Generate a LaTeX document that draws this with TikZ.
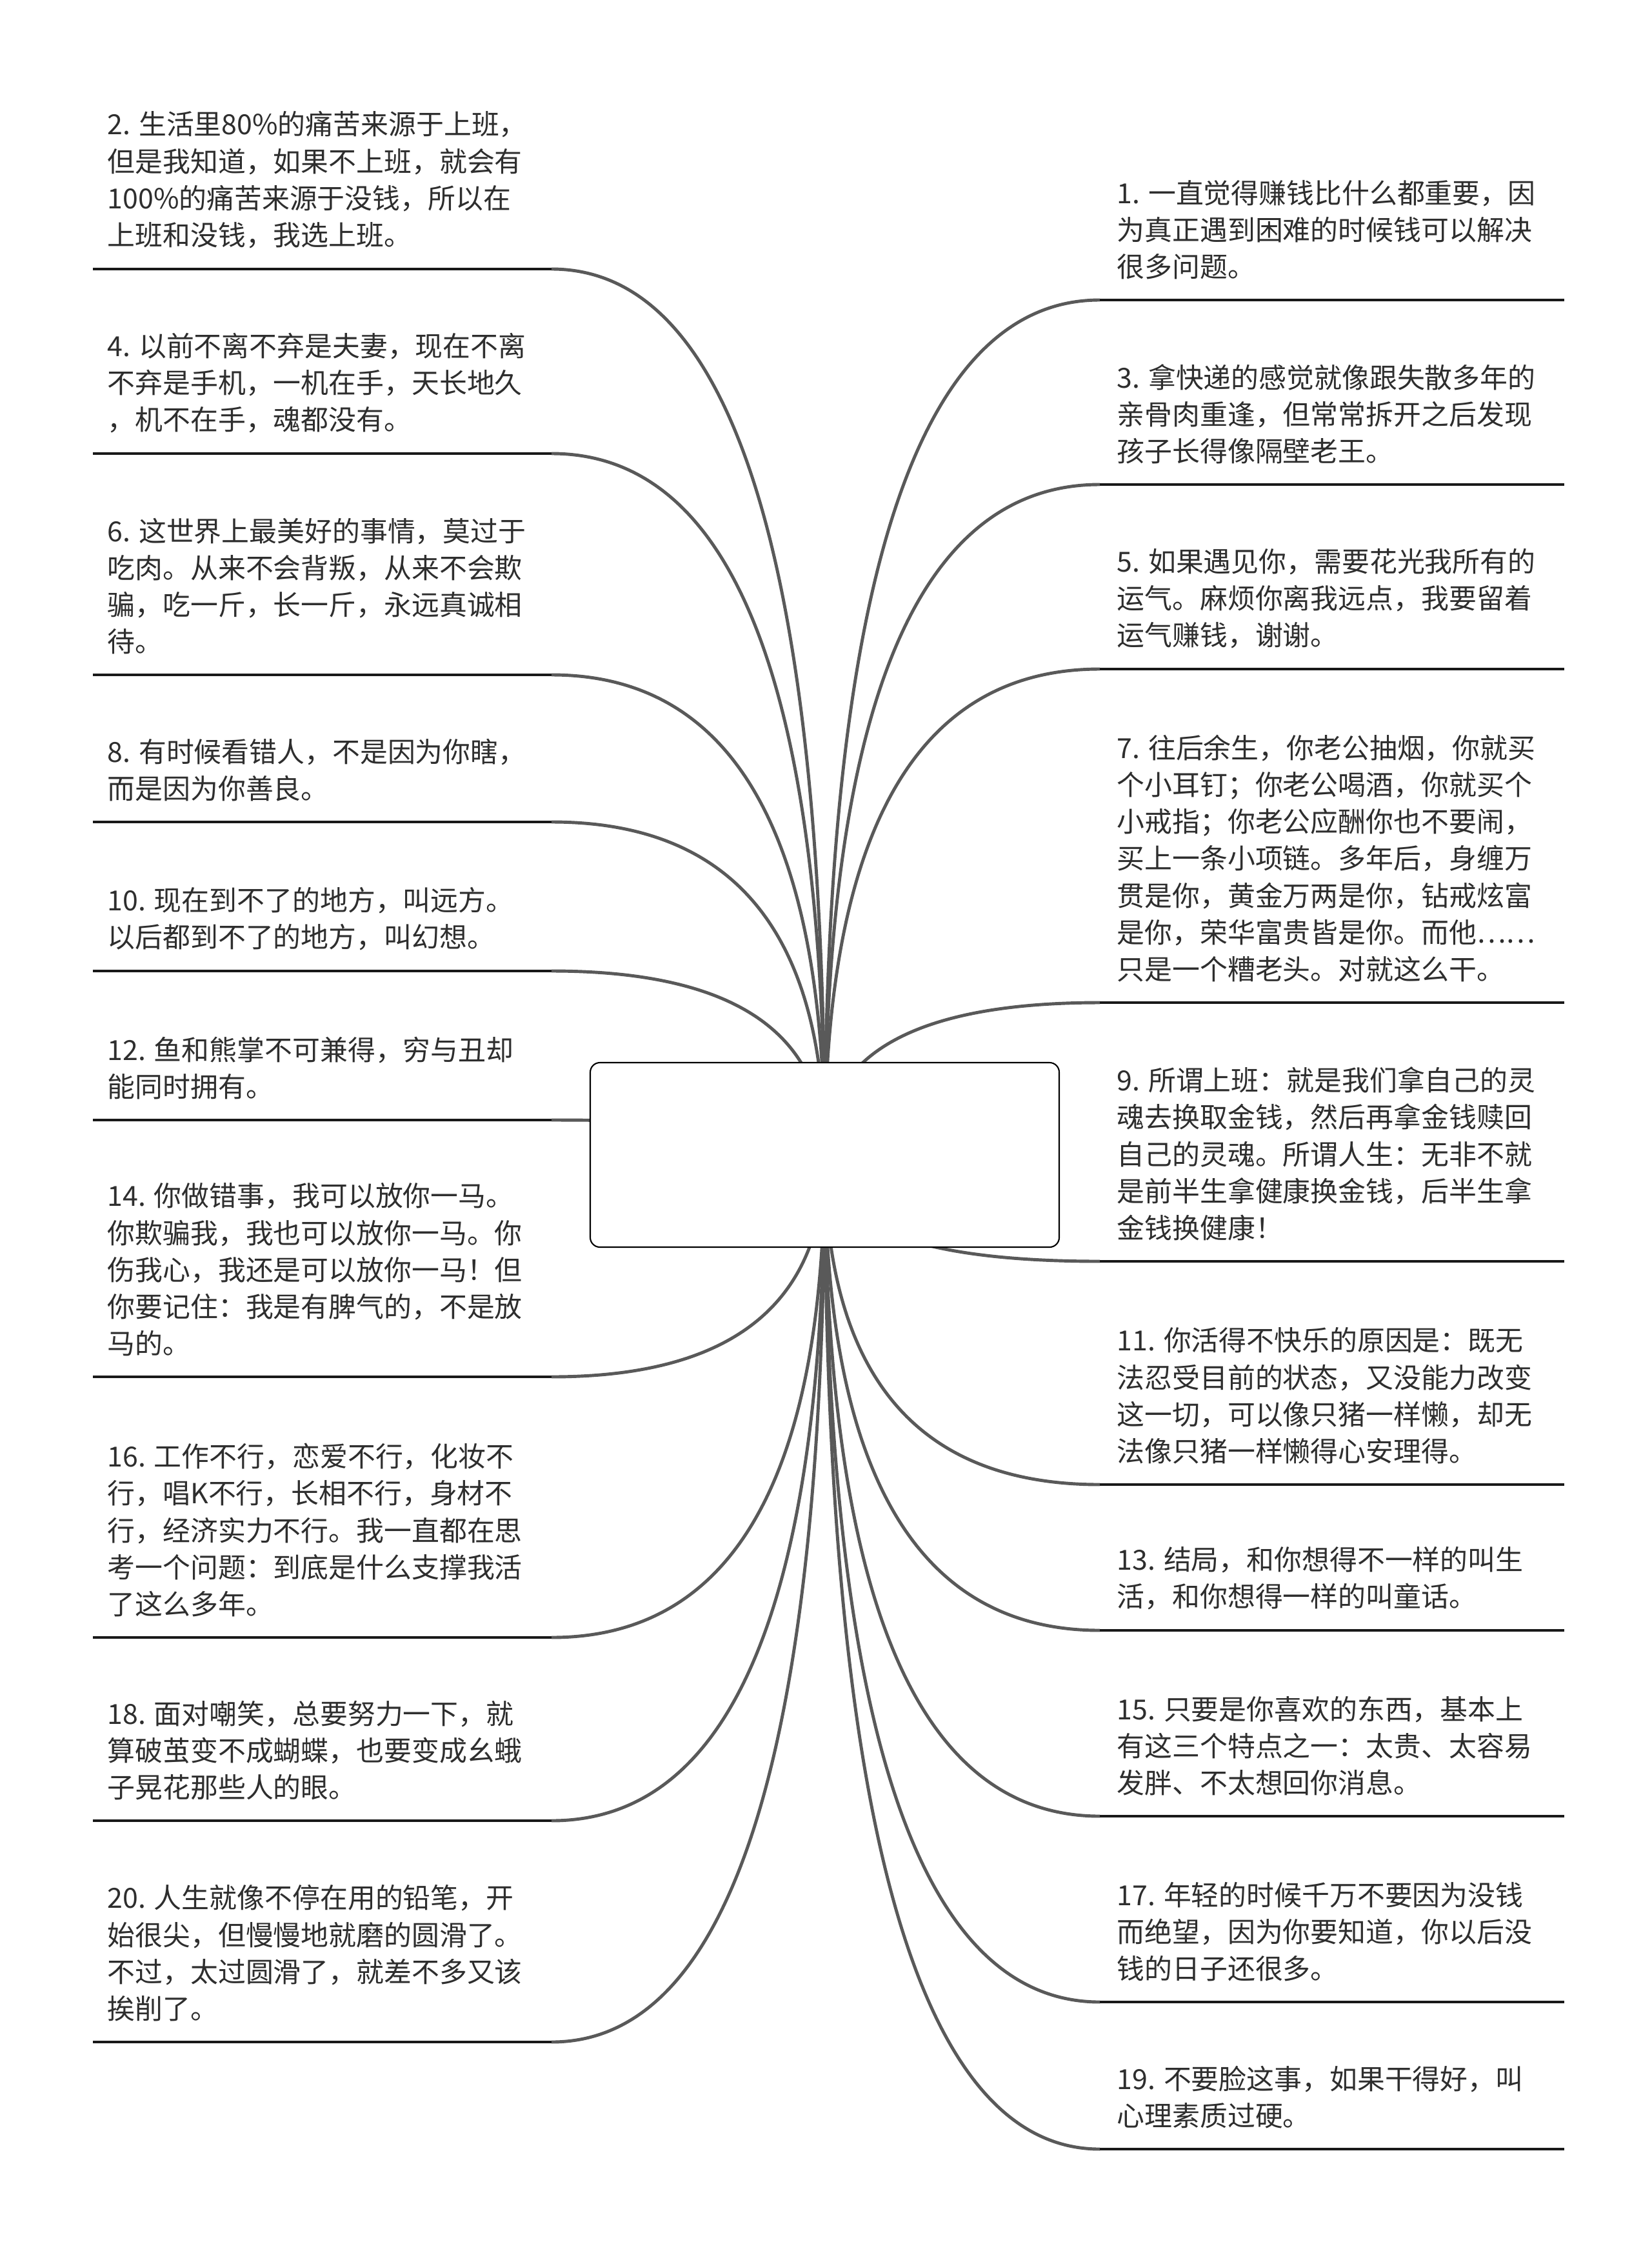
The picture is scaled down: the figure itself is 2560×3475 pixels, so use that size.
\documentclass[tikz,border=0pt]{standalone}
\usepackage{fontspec}
\setmainfont{Noto Sans CJK SC}
\usetikzlibrary{calc,backgrounds}

\begin{document}
\begin{tikzpicture}[
    x=0.1mm, y=-0.1mm,
    leaf/.style={anchor=south west, inner sep=0pt, align=left, text=black!82,
        font=\fontsize{12.2pt}{16.3pt}\selectfont},
    rootbox/.style={draw, fill=white, line width=0.6pt, rounded corners=1.5mm,
        minimum width=72.7mm, minimum height=28.6mm},
    rule/.style={line width=1.1pt, black!90},
    link/.style={line width=1.4pt, black!65, to path={
        .. controls ($(\tikztostart)!2/3!(\tikztostart|-\tikztotarget)$)
        and ($(\tikztotarget)!2/3!(\tikztostart|-\tikztotarget)$) .. (\tikztotarget)}}
]
\useasboundingbox (0,0) rectangle (2560,3475);

% centre topic
\node[rootbox] (root) at (1278.5,1790) {};

% left branches
\node[leaf] (t2) at (166,386) {2. 生活里80\%的痛苦来源于上班，\\但是我知道，如果不上班，就会有\\100\%的痛苦来源于没钱，所以在\\上班和没钱，我选上班。};
\coordinate (a2) at (144,417);  \coordinate (e2) at (855,417);

\node[leaf] (t4) at (166,672) {4. 以前不离不弃是夫妻，现在不离\\不弃是手机，一机在手，天长地久\\，机不在手，魂都没有。};
\coordinate (a4) at (144,703);  \coordinate (e4) at (855,703);

\node[leaf] (t6) at (166,1015) {6. 这世界上最美好的事情，莫过于\\吃肉。从来不会背叛，从来不会欺\\骗，吃一斤，长一斤，永远真诚相\\待。};
\coordinate (a6) at (144,1046); \coordinate (e6) at (855,1046);

\node[leaf] (t8) at (166,1243) {8. 有时候看错人，不是因为你瞎，\\而是因为你善良。};
\coordinate (a8) at (144,1274); \coordinate (e8) at (855,1274);

\node[leaf] (t10) at (166,1474) {10. 现在到不了的地方，叫远方。\\以后都到不了的地方，叫幻想。};
\coordinate (a10) at (144,1505); \coordinate (e10) at (855,1505);

\node[leaf] (t12) at (166,1705) {12. 鱼和熊掌不可兼得，穷与丑却\\能同时拥有。};
\coordinate (a12) at (144,1736); \coordinate (e12) at (855,1736);

\node[leaf] (t14) at (166,2103) {14. 你做错事，我可以放你一马。\\你欺骗我，我也可以放你一马。你\\伤我心，我还是可以放你一马！但\\你要记住：我是有脾气的，不是放\\马的。};
\coordinate (a14) at (144,2134); \coordinate (e14) at (855,2134);

\node[leaf] (t16) at (166,2507) {16. 工作不行，恋爱不行，化妆不\\行，唱K不行，长相不行，身材不\\行，经济实力不行。我一直都在思\\考一个问题：到底是什么支撑我活\\了这么多年。};
\coordinate (a16) at (144,2538); \coordinate (e16) at (855,2538);

\node[leaf] (t18) at (166,2791) {18. 面对嘲笑，总要努力一下，就\\算破茧变不成蝴蝶，也要变成幺蛾\\子晃花那些人的眼。};
\coordinate (a18) at (144,2822); \coordinate (e18) at (855,2822);

\node[leaf] (t20) at (166,3134) {20. 人生就像不停在用的铅笔，开\\始很尖，但慢慢地就磨的圆滑了。\\不过，太过圆滑了，就差不多又该\\挨削了。};
\coordinate (a20) at (144,3165); \coordinate (e20) at (855,3165);

% right branches
\node[leaf] (t1) at (1731,434) {1. 一直觉得赚钱比什么都重要，因\\为真正遇到困难的时候钱可以解决\\很多问题。};
\coordinate (e1) at (1705,465);  \coordinate (a1) at (2425,465);

\node[leaf] (t3) at (1731,720) {3. 拿快递的感觉就像跟失散多年的\\亲骨肉重逢，但常常拆开之后发现\\孩子长得像隔壁老王。};
\coordinate (e3) at (1705,751);  \coordinate (a3) at (2425,751);

\node[leaf] (t5) at (1731,1006) {5. 如果遇见你，需要花光我所有的\\运气。麻烦你离我远点，我要留着\\运气赚钱，谢谢。};
\coordinate (e5) at (1705,1037); \coordinate (a5) at (2425,1037);

\node[leaf] (t7) at (1731,1523) {7. 往后余生，你老公抽烟，你就买\\个小耳钉；你老公喝酒，你就买个\\小戒指；你老公应酬你也不要闹，\\买上一条小项链。多年后，身缠万\\贯是你，黄金万两是你，钻戒炫富\\是你，荣华富贵皆是你。而他……\\只是一个糟老头。对就这么干。};
\coordinate (e7) at (1705,1554); \coordinate (a7) at (2425,1554);

\node[leaf] (t9) at (1731,1924) {9. 所谓上班：就是我们拿自己的灵\\魂去换取金钱，然后再拿金钱赎回\\自己的灵魂。所谓人生：无非不就\\是前半生拿健康换金钱，后半生拿\\金钱换健康！};
\coordinate (e9) at (1705,1955); \coordinate (a9) at (2425,1955);

\node[leaf] (t11) at (1731,2270) {11. 你活得不快乐的原因是：既无\\法忍受目前的状态，又没能力改变\\这一切，可以像只猪一样懒，却无\\法像只猪一样懒得心安理得。};
\coordinate (e11) at (1705,2301); \coordinate (a11) at (2425,2301);

\node[leaf] (t13) at (1731,2496) {13. 结局，和你想得不一样的叫生\\活，和你想得一样的叫童话。};
\coordinate (e13) at (1705,2527); \coordinate (a13) at (2425,2527);

\node[leaf] (t15) at (1731,2784) {15. 只要是你喜欢的东西，基本上\\有这三个特点之一：太贵、太容易\\发胖、不太想回你消息。};
\coordinate (e15) at (1705,2815); \coordinate (a15) at (2425,2815);

\node[leaf] (t17) at (1731,3072) {17. 年轻的时候千万不要因为没钱\\而绝望，因为你要知道，你以后没\\钱的日子还很多。};
\coordinate (e17) at (1705,3103); \coordinate (a17) at (2425,3103);

\node[leaf] (t19) at (1731,3300) {19. 不要脸这事，如果干得好，叫\\心理素质过硬。};
\coordinate (e19) at (1705,3331); \coordinate (a19) at (2425,3331);

% connectors behind the centre box
\begin{pgfonlayer}{background}
\fill[white] (0,0) rectangle (2560,3475);
\draw[link] (root.center) to (e2);
\draw[link] (root.center) to (e4);
\draw[link] (root.center) to (e6);
\draw[link] (root.center) to (e8);
\draw[link] (root.center) to (e10);
\draw[link] (root.center) to (e12);
\draw[link] (root.center) to (e14);
\draw[link] (root.center) to (e16);
\draw[link] (root.center) to (e18);
\draw[link] (root.center) to (e20);
\draw[link] (root.center) to (e1);
\draw[link] (root.center) to (e3);
\draw[link] (root.center) to (e5);
\draw[link] (root.center) to (e7);
\draw[link] (root.center) to (e9);
\draw[link] (root.center) to (e11);
\draw[link] (root.center) to (e13);
\draw[link] (root.center) to (e15);
\draw[link] (root.center) to (e17);
\draw[link] (root.center) to (e19);
\end{pgfonlayer}

% underlines
\draw[rule] (a2) -- (e2);   \draw[rule] (a4) -- (e4);
\draw[rule] (a6) -- (e6);   \draw[rule] (a8) -- (e8);
\draw[rule] (a10) -- (e10); \draw[rule] (a12) -- (e12);
\draw[rule] (a14) -- (e14); \draw[rule] (a16) -- (e16);
\draw[rule] (a18) -- (e18); \draw[rule] (a20) -- (e20);
\draw[rule] (e1) -- (a1);   \draw[rule] (e3) -- (a3);
\draw[rule] (e5) -- (a5);   \draw[rule] (e7) -- (a7);
\draw[rule] (e9) -- (a9);   \draw[rule] (e11) -- (a11);
\draw[rule] (e13) -- (a13); \draw[rule] (e15) -- (a15);
\draw[rule] (e17) -- (a17); \draw[rule] (e19) -- (a19);

\end{tikzpicture}
\end{document}
